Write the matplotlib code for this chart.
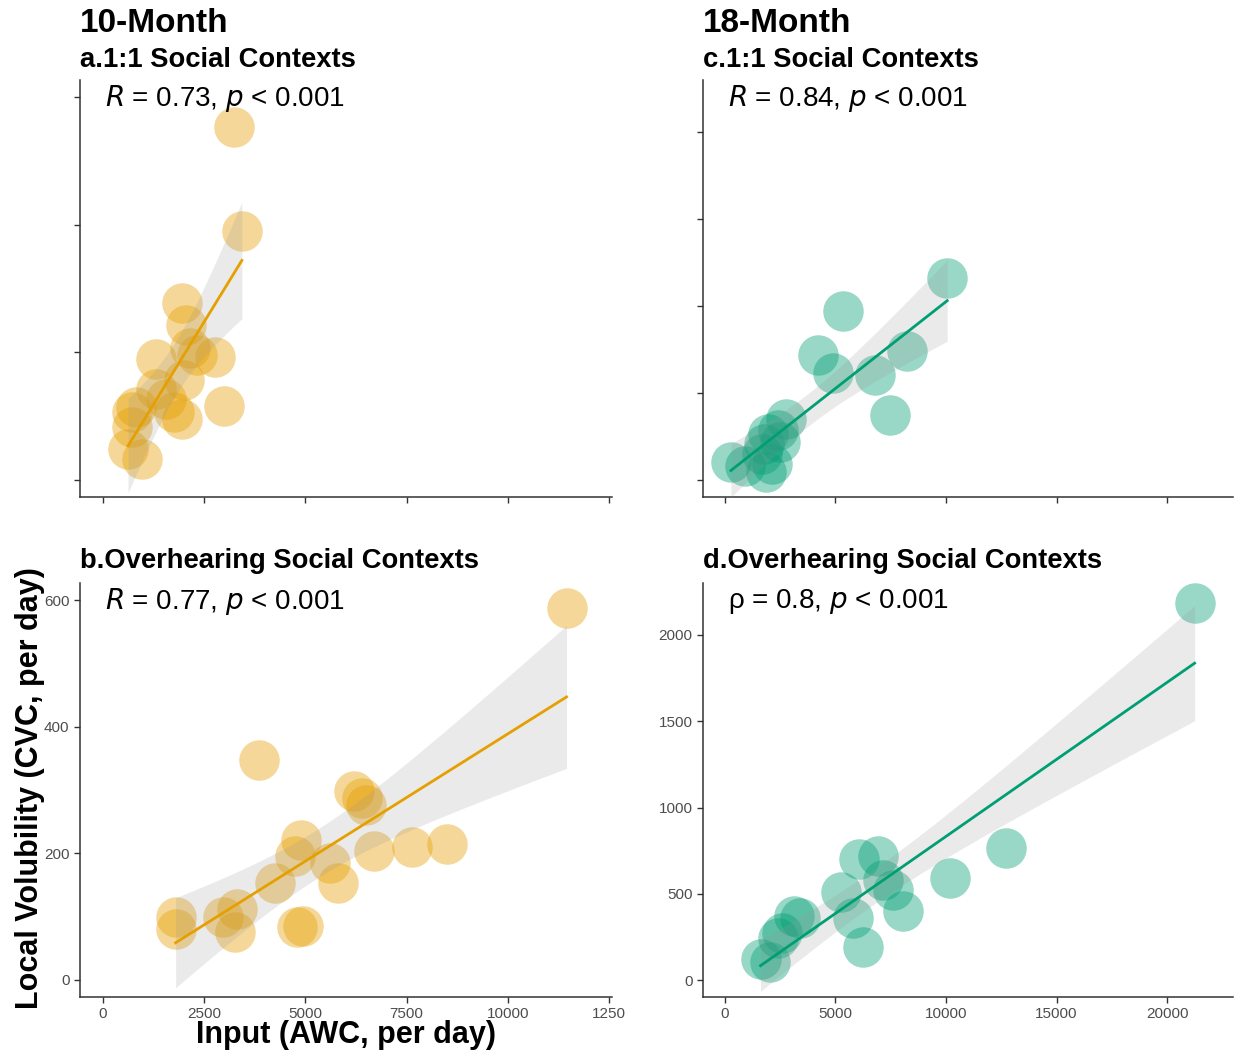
import numpy as np
import matplotlib
matplotlib.use("Agg")
import matplotlib.pyplot as plt

plt.rcParams['font.family'] = ['Liberation Sans', 'DejaVu Sans']

# ---- data ----
# a. 10-month, 1:1 social contexts
a_awc = [3235, 3431, 1961, 2039, 2157, 2775, 2333, 1304, 1990, 1304,
         1549, 3000, 1745, 1941, 716, 716, 618, 961, 814]
a_cvc = [553, 390, 278, 243, 206, 193, 196, 189, 156, 143,
         127, 116, 106, 95, 106, 82, 48, 32, 114]

# b. 10-month, overhearing
b_awc = [11451, 3853, 6206, 6402, 6500, 6696, 7627, 8510, 4882, 4735,
         5618, 5814, 4245, 3314, 2971, 1794, 1794, 3265, 4784, 4931]
b_cvc = [588, 348, 299, 288, 276, 204, 210, 215, 221, 196,
         185, 153, 153, 112, 99, 99, 80, 75, 83, 85]

# c. 18-month, 1:1 social contexts
c_awc = [10054, 5357, 4196, 4875, 6786, 8214, 7446, 2768, 2411, 1964,
         2500, 1786, 268, 893, 1875, 2143, 1696]
c_cvc = [1161, 973, 721, 614, 605, 740, 376, 353, 285, 266,
         217, 207, 101, 81, 43, 91, 149]

# d. 18-month, overhearing
d_awc = [21250, 12732, 10179, 6071, 6911, 5268, 7143, 7589, 8036, 5804,
         6250, 3125, 3393, 2589, 2411, 1607, 2054]
d_cvc = [2184, 768, 594, 699, 719, 511, 580, 521, 402, 362,
         194, 372, 362, 273, 244, 125, 105]

stats = ["$R$ = 0.73, $p$ < 0.001", "$R$ = 0.77, $p$ < 0.001",
         "$R$ = 0.84, $p$ < 0.001", "\u03c1 = 0.8, $p$ < 0.001"]
titles = ["a.1:1 Social Contexts", "b.Overhearing Social Contexts",
          "c.1:1 Social Contexts", "d.Overhearing Social Contexts"]

ORANGE = "#E69F00"
GREEN = "#009E73"
T_CRIT = 2.1


def draw_panel(ax, x, y, color, stat):
    x = np.asarray(x, float)
    y = np.asarray(y, float)
    ax.scatter(x, y, s=850, color=color, alpha=0.4, linewidths=0, zorder=2)

    # linear fit with 95% confidence band
    b1, b0 = np.polyfit(x, y, 1)
    n = len(x)
    resid = y - (b0 + b1 * x)
    se = np.sqrt(np.sum(resid ** 2) / (n - 2))
    xs = np.linspace(x.min(), x.max(), 100)
    ys = b0 + b1 * xs
    half = T_CRIT * se * np.sqrt(1 / n + (xs - x.mean()) ** 2 / np.sum((x - x.mean()) ** 2))
    ax.fill_between(xs, ys - half, ys + half, color="0.6", alpha=0.2, linewidth=0, zorder=3)
    ax.plot(xs, ys, color=color, lw=2, zorder=4)

    ax.text(0.047, 0.955, stat, transform=ax.transAxes, fontsize=20,
            ha="left", va="center", color="black")

    for side in ["top", "right"]:
        ax.spines[side].set_visible(False)
    for side in ["left", "bottom"]:
        ax.spines[side].set_color("#333333")
        ax.spines[side].set_linewidth(1.1)
    ax.tick_params(direction="out", length=4, width=1, color="#333333",
                   labelsize=11, labelcolor="#4D4D4D")


fig = plt.figure(figsize=(12.38, 10.55), dpi=100)

W = 1238.0
H = 1055.0


def box(x0, y0, x1, y1):
    return [x0 / W, 1 - y1 / H, (x1 - x0) / W, (y1 - y0) / H]


ax_a = fig.add_axes(box(80, 80, 612, 497))
ax_b = fig.add_axes(box(80, 583, 612, 997))
ax_c = fig.add_axes(box(703, 80, 1233, 497))
ax_d = fig.add_axes(box(703, 583, 1233, 997))

draw_panel(ax_a, a_awc, a_cvc, ORANGE, stats[0])
draw_panel(ax_b, b_awc, b_cvc, ORANGE, stats[1])
draw_panel(ax_c, c_awc, c_cvc, GREEN, stats[2])
draw_panel(ax_d, d_awc, d_cvc, GREEN, stats[3])

for ax in (ax_a, ax_b):
    ax.set_xlim(-568, 12574)
    ax.set_ylim(-27, 627)
    ax.set_xticks([0, 2500, 5000, 7500, 10000, 12500])
    ax.set_yticks([0, 200, 400, 600])
for ax in (ax_c, ax_d):
    ax.set_xlim(-995, 22986)
    ax.set_ylim(-98, 2301)
    ax.set_xticks([0, 5000, 10000, 15000, 20000])
    ax.set_yticks([0, 500, 1000, 1500, 2000])
ax_b.set_xticklabels(["0", "2500", "5000", "7500", "10000", "1250"])
for ax in (ax_a, ax_c):
    ax.set_xticklabels([])
    ax.set_yticklabels([])

# headings
fig.text(80 / W, 1 - 23 / H, "10-Month", fontsize=24, fontweight="bold", va="center")
fig.text(703 / W, 1 - 23 / H, "18-Month", fontsize=24, fontweight="bold", va="center")
fig.text(80 / W, 1 - 60 / H, titles[0], fontsize=19.7, fontweight="bold", va="center")
fig.text(80 / W, 1 - 561 / H, titles[1], fontsize=19.7, fontweight="bold", va="center")
fig.text(703 / W, 1 - 60 / H, titles[2], fontsize=19.7, fontweight="bold", va="center")
fig.text(703 / W, 1 - 561 / H, titles[3], fontsize=19.7, fontweight="bold", va="center")

fig.text(30 / W, 1 - 788 / H, "Local Volubility (CVC, per day)", fontsize=22,
         fontweight="bold", rotation=90, ha="center", va="center")
fig.text(346 / W, 1 - 1035 / H, "Input (AWC, per day)", fontsize=22,
         fontweight="bold", ha="center", va="center")

fig.savefig("out.png", dpi=100)
